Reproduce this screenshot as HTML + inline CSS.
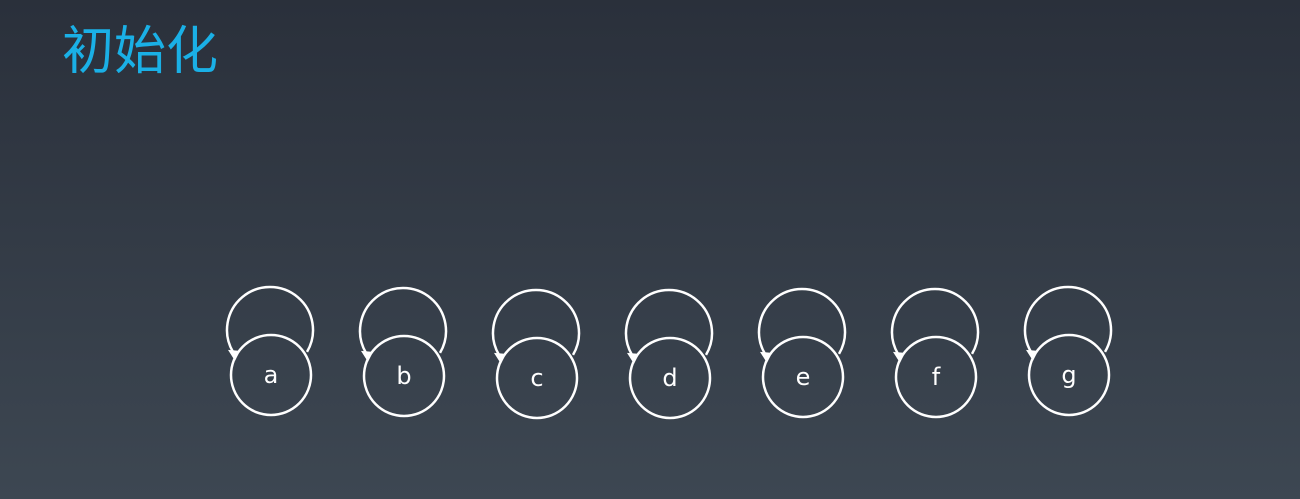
<!DOCTYPE html>
<html><head><meta charset="utf-8"><style>
html,body{margin:0;padding:0;}
body{width:1300px;height:499px;overflow:hidden;background:linear-gradient(#2a303b,#3d4752);position:relative;font-family:"Liberation Sans","Noto Sans CJK SC",sans-serif;}
#title{position:absolute;left:62px;top:18px;font-size:52px;color:#1ab0e6;font-family:"Noto Sans CJK SC","WenQuanYi Zen Hei",sans-serif;line-height:1.1;}
svg{position:absolute;left:0;top:0;}
</style></head><body>
<div id="title">初始化</div>
<svg id="g" width="1300" height="499"></svg>
<script>
const labels=['a','b','c','d','e','f','g'];
const nodeX=[271,404,537,670,803,936,1069];
const nodeY=[375,376,378,378,377,377,375];
const NS='http://www.w3.org/2000/svg';
const svg=document.getElementById('g');
const R=40, LR=43;
function mk(t,a){const e=document.createElementNS(NS,t);for(const k in a)e.setAttribute(k,a[k]);return e;}
labels.forEach((l,i)=>{
  const cx=nodeX[i], cy=nodeY[i];
  const grp=mk('g',{});
  
  
  const lcx=cx-1, lcy=cy-45;
  const a1=Math.PI*0.17, a2=Math.PI*0.83;
  const ex=lcx+LR*Math.cos(a1), ey=lcy+LR*Math.sin(a1);
  const sx=lcx+LR*Math.cos(a2), sy=lcy+LR*Math.sin(a2);
  const loop=mk('path',{d:`M${ex},${ey} A${LR},${LR} 0 1 0 ${sx},${sy}`,fill:'none',stroke:'#fff','stroke-width':2.5});
  
  
  grp.appendChild(loop);
  const tx=sx+2, ty=sy+9;
  const arrow=mk('polygon',{points:`${tx-7},${ty-11} ${tx+5},${ty-10} ${tx},${ty}`,fill:'#fff'});
  
  
  grp.appendChild(arrow);
  const c=mk('circle',{cx:cx,cy:cy,r:R,fill:'none',stroke:'#fff','stroke-width':2.5});
  
  
  grp.appendChild(c);
  const t=mk('text',{x:cx,y:cy+8,'text-anchor':'middle','font-size':24,fill:'#fff','font-family':'"DejaVu Sans","Liberation Sans",sans-serif'});
  t.textContent=l;
  
  
  grp.appendChild(t);
  svg.appendChild(grp);
});
</script>
</body></html>
